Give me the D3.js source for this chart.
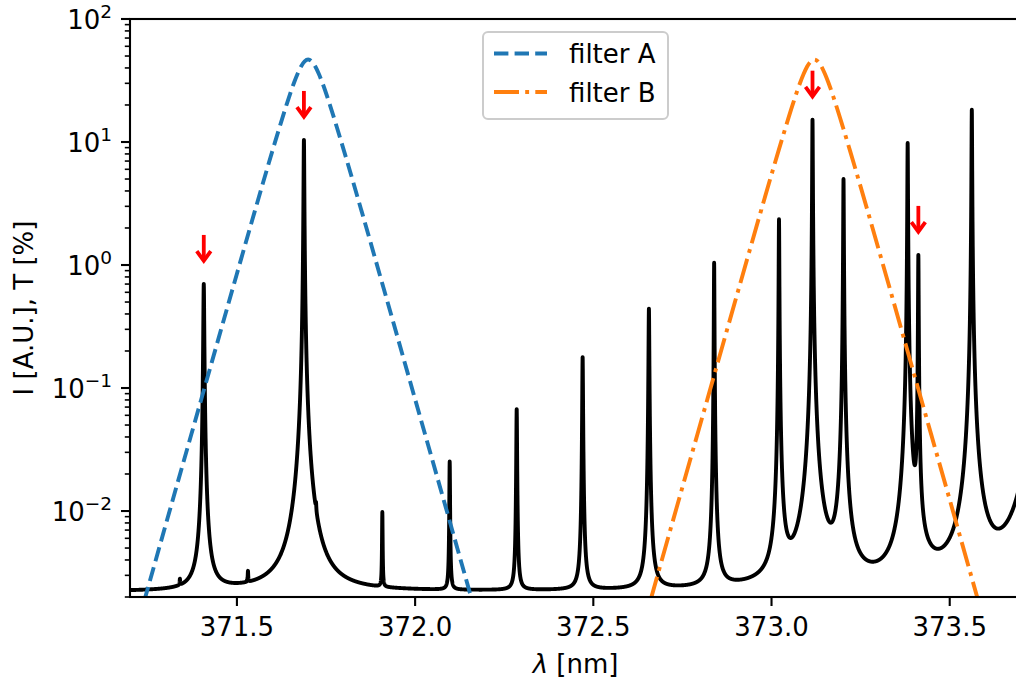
<!DOCTYPE html>
<html><head><meta charset="utf-8">
<script src="https://cdn.jsdelivr.net/npm/d3@7"></script>
<style>body{margin:0;background:#fff} text{font-family:"DejaVu Sans",sans-serif;fill:#000}</style>
</head><body><svg id="c" width="1016" height="682"></svg>
<script>
// ---- data ----
const xDomain = [371.2, 373.7];
const yDomain = [0.002, 100];
const xTicks = [371.5, 372.0, 372.5, 373.0, 373.5];
const yTickExponents = [-2, -1, 0, 1, 2];

// emission lines: centre [nm], peak intensity above continuum [A.U.], half width [nm]
const peakCenters = [371.340, 371.407, 371.531, 371.688, 371.722, 371.908, 372.097, 372.285, 372.470, 372.656, 372.839, 373.021, 373.115, 373.202, 373.382, 373.412, 373.562, 373.750];
const peakHeights = [0.0003, 0.70, 0.0006, 10.4, 0.0015, 0.0074, 0.023, 0.065, 0.176, 0.44, 1.04, 2.35, 15.2, 5.0, 9.8, 1.2, 18.3, 60];
const peakWidths  = [0.0008, 0.0012, 0.0008, 0.00095, 0.0008, 0.0008, 0.0009, 0.001, 0.001, 0.001, 0.0007, 0.00075, 0.00075, 0.00075, 0.00075, 0.00075, 0.00075, 0.0008];
const continuum = 0.0022;

// marked lines (red arrows)
const markedLines = [371.407, 371.688, 373.115, 373.412];

// filter transmission curves [%]
const filterA_wl = [371.24, 371.30, 371.40, 371.50, 371.55, 371.60, 371.62, 371.64, 371.66, 371.67, 371.68, 371.69, 371.70, 371.71, 371.72, 371.73, 371.74, 371.76, 371.78, 371.80, 371.85, 371.90, 372.00, 372.10, 372.16];
const filterA_T  = [0.00186, 0.0077, 0.081, 0.85, 2.73, 8.55, 13.3, 20.4, 30.2, 35.7, 41.1, 45.2, 46.8, 45.2, 41.1, 35.7, 30.2, 20.4, 13.3, 8.55, 2.73, 0.85, 0.081, 0.0077, 0.00186];
const filterB_wl = [372.66, 372.72, 372.82, 372.92, 372.97, 373.02, 373.04, 373.06, 373.08, 373.09, 373.10, 373.11, 373.12, 373.13, 373.14, 373.15, 373.16, 373.18, 373.20, 373.22, 373.27, 373.32, 373.42, 373.52, 373.58];
const filterB_T  = [0.00186, 0.0077, 0.081, 0.85, 2.73, 8.55, 13.3, 20.4, 30.2, 35.7, 41.1, 45.2, 46.8, 45.2, 41.1, 35.7, 30.2, 20.4, 13.3, 8.55, 2.73, 0.85, 0.081, 0.0077, 0.00186];
const legendLabels = ["filter A", "filter B"];

// ---- layout ----
const L = 130, R = 1021, T = 19, B = 597;
const FS = 26;
const svg = d3.select("#c");
svg.append("rect").attr("width",1016).attr("height",682).attr("fill","#fff");

const x = d3.scaleLinear().domain(xDomain).range([L, R]);
const y = d3.scaleLog().domain(yDomain).range([B, T]);

svg.append("clipPath").attr("id","clip").append("rect")
  .attr("x",L).attr("y",T).attr("width",R-L).attr("height",B-T);
const plot = svg.append("g").attr("clip-path","url(#clip)");

// spectrum
function intensity(l){
  let s = continuum;
  for (let i=0;i<peakCenters.length;i++){
    const d=(l-peakCenters[i])/peakWidths[i];
    s += peakHeights[i]/(1+d*d);
  }
  return s;
}
let lams = d3.range(xDomain[0], xDomain[1]+1e-9, 0.0003).concat(peakCenters.filter(c=>c>=xDomain[0]&&c<=xDomain[1]));
lams.sort((a,b)=>a-b);
const spec = lams.map(l=>[l,intensity(l)]);
plot.append("path").datum(spec)
  .attr("d", d3.line().x(d=>x(d[0])).y(d=>y(d[1])))
  .attr("fill","none").attr("stroke","#000").attr("stroke-width",3.9)
  .attr("stroke-linejoin","round");

// filters
const lineF = d3.line().x(d=>x(d[0])).y(d=>y(d[1])).curve(d3.curveMonotoneX);
plot.append("path").datum(filterA_wl.map((w,i)=>[w,filterA_T[i]]))
  .attr("d",lineF).attr("fill","none").attr("stroke","#1f77b4").attr("stroke-width",3.9)
  .attr("stroke-dasharray","14.4,6.2");
plot.append("path").datum(filterB_wl.map((w,i)=>[w,filterB_T[i]]))
  .attr("d",lineF).attr("fill","none").attr("stroke","#ff7f0e").attr("stroke-width",3.9)
  .attr("stroke-dasharray","25,6.2,3.9,6.2");

// arrows
markedLines.forEach(c=>{
  const v = intensity(c);
  const xp = x(c), y0 = y(v*2.5), y1 = y(v*1.5);
  const g = svg.append("g").attr("stroke","#ff0000").attr("fill","none").attr("stroke-width",3.8);
  g.append("line").attr("x1",xp).attr("x2",xp).attr("y1",y0).attr("y2",y1-2);
  g.append("path").attr("d",`M${xp-7},${y1-11}L${xp},${y1-1.5}L${xp+7},${y1-11}`)
    .attr("stroke-linejoin","miter").attr("stroke-linecap","butt");
});

// spines
svg.append("rect").attr("x",L).attr("y",T).attr("width",R-L).attr("height",B-T)
  .attr("stroke","#000").attr("stroke-width",2.1).attr("fill","none");

// x axis
xTicks.forEach(v=>{
  svg.append("line").attr("x1",x(v)).attr("x2",x(v)).attr("y1",B).attr("y2",B+9)
    .attr("stroke","#000").attr("stroke-width",2.1);
  svg.append("text").attr("x",x(v)).attr("y",636).attr("text-anchor","middle")
    .attr("font-size",FS).text(d3.format(".1f")(v));
});
const xl = svg.append("text").attr("x",(L+R)/2).attr("y",673).attr("text-anchor","middle").attr("font-size",FS);
xl.append("tspan").attr("font-style","italic").text("λ");
xl.append("tspan").text(" [nm]");

// y axis major
yTickExponents.forEach(e=>{
  const v = Math.pow(10,e), yy = y(v);
  svg.append("line").attr("x1",L-9).attr("x2",L).attr("y1",yy).attr("y2",yy)
    .attr("stroke","#000").attr("stroke-width",2.1);
  const t = svg.append("text").attr("x",112).attr("y",yy+10).attr("text-anchor","end").attr("font-size",FS);
  t.append("tspan").text("10");
  t.append("tspan").attr("font-size",18.5).attr("dy",-11).text(e<0?"\u2212"+Math.abs(e):String(e));
});
// y axis minor
for (let e=-3;e<=1;e++){
  for (let m=2;m<=9;m++){
    const v=m*Math.pow(10,e);
    if (v<yDomain[0]-1e-12||v>yDomain[1]) continue;
    const yy=y(v);
    svg.append("line").attr("x1",L-5.2).attr("x2",L).attr("y1",yy).attr("y2",yy)
      .attr("stroke","#000").attr("stroke-width",1.6);
  }
}
svg.append("text").attr("transform","translate(33,308) rotate(-90)").attr("text-anchor","middle")
  .attr("font-size",FS).text("I [A.U.], T [%]");

// legend
const lg = svg.append("g");
lg.append("rect").attr("x",483).attr("y",32).attr("width",185).attr("height",87).attr("rx",5)
  .attr("fill","#fff").attr("fill-opacity",0.8).attr("stroke","#cccccc").attr("stroke-width",2);
const legStyles = [{c:"#1f77b4",d:"14.4,6.2"},{c:"#ff7f0e",d:"25,6.2,3.9,6.2"}];
legendLabels.forEach((lab,i)=>{
  const cy = 53.5 + i*38.5;
  lg.append("line").attr("x1",494).attr("x2",547).attr("y1",cy).attr("y2",cy)
    .attr("stroke",legStyles[i].c).attr("stroke-width",3.9).attr("stroke-dasharray",legStyles[i].d);
  lg.append("text").attr("x",569).attr("y",cy+9.5).attr("font-size",FS).text(lab);
});
</script></body></html>
